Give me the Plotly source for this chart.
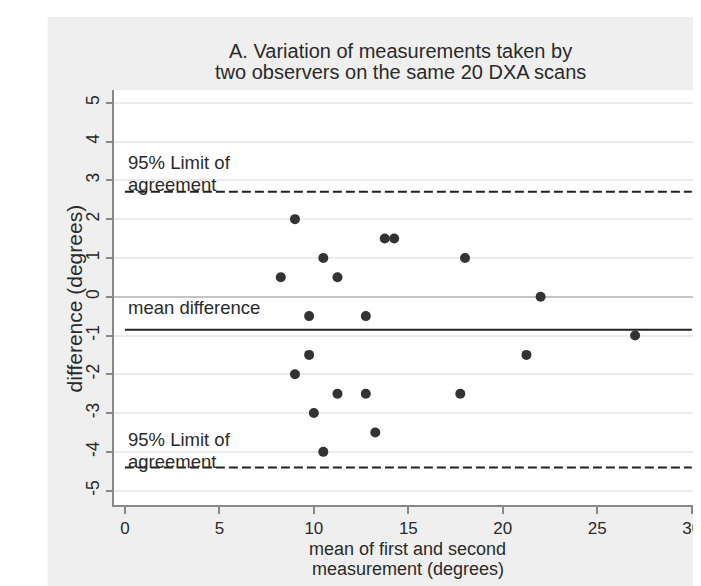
import numpy as np
import plotly.graph_objects as go

# data: mean of measurements (x) and difference (y)
mean_meas = [9.0, 13.75, 14.25, 10.5, 18.0, 8.25, 11.25, 22.0, 9.75, 12.75,
             27.0, 9.75, 21.25, 9.0, 11.25, 12.75, 17.75, 10.0, 13.25, 10.5]
difference = [2.0, 1.5, 1.5, 1.0, 1.0, 0.5, 0.5, 0.0, -0.5, -0.5,
              -1.0, -1.5, -1.5, -2.0, -2.5, -2.5, -2.5, -3.0, -3.5, -4.0]
x_ticks = [0, 5, 10, 15, 20, 25, 30]
y_ticks = [-5, -4, -3, -2, -1, 0, 1, 2, 3, 4, 5]
y_tick_labels = ["-5", "-4", "-3", "-2", "-1", "0", "1", "2", "3", "4", "5"]
line_span = [0, 30]

d = np.array(difference)
mean_diff = d.mean()
sd = d.std(ddof=1)
upper = mean_diff + 1.96 * sd
lower = mean_diff - 1.96 * sd

FONT = "Liberation Sans, Arial, sans-serif"
TXT = "#2a2a2a"

fig = go.Figure()
fig.add_trace(go.Scatter(x=line_span, y=[upper, upper], mode="lines",
                         line=dict(color="#222", width=2, dash="9px,4px"),
                         hoverinfo="skip", showlegend=False))
fig.add_trace(go.Scatter(x=line_span, y=[lower, lower], mode="lines",
                         line=dict(color="#222", width=2, dash="9px,4px"),
                         hoverinfo="skip", showlegend=False))
fig.add_trace(go.Scatter(x=line_span, y=[mean_diff, mean_diff], mode="lines",
                         line=dict(color="#222", width=2),
                         hoverinfo="skip", showlegend=False))
fig.add_trace(go.Scatter(x=mean_meas, y=difference, mode="markers",
                         marker=dict(color="#333", size=10),
                         showlegend=False))

annos = []
for val, lbl, sh in [(upper, "agreement", 7), (upper, "95% Limit of", 29),
                     (lower, "agreement", 6), (lower, "95% Limit of", 28),
                     (mean_diff, "mean difference", 22)]:
    annos.append(dict(x=0, y=val, xref="x", yref="y", text=lbl, showarrow=False,
                      xanchor="left", yanchor="middle", xshift=1, yshift=sh,
                      font=dict(family=FONT, size=18.5, color=TXT)))

# title lines
annos.append(dict(x=0.4923, y=1.0940, xref="paper", yref="paper",
                  text="A. Variation of measurements taken by", showarrow=False,
                  xanchor="center", yanchor="middle",
                  font=dict(family=FONT, size=20, color=TXT)))
annos.append(dict(x=0.4923, y=1.0434, xref="paper", yref="paper",
                  text="two observers on the same 20 DXA scans", showarrow=False,
                  xanchor="center", yanchor="middle",
                  font=dict(family=FONT, size=20, color=TXT)))
# x title
annos.append(dict(x=0.506, y=-0.106, xref="paper", yref="paper",
                  text="mean of first and second", showarrow=False,
                  xanchor="center", yanchor="middle",
                  font=dict(family=FONT, size=18, color=TXT)))
annos.append(dict(x=0.506, y=-0.154, xref="paper", yref="paper",
                  text="measurement (degrees)", showarrow=False,
                  xanchor="center", yanchor="middle",
                  font=dict(family=FONT, size=18, color=TXT)))
# y title
annos.append(dict(x=-0.0664, y=0.4988, xref="paper", yref="paper",
                  text="difference (degrees)", showarrow=False, textangle=-90,
                  xanchor="center", yanchor="middle",
                  font=dict(family=FONT, size=21, color=TXT)))

shapes = [
    dict(type="rect", xref="paper", yref="paper", x0=-0.25, x1=-0.1141,
         y0=-0.3, y1=1.3, fillcolor="white", line=dict(width=0), layer="below"),
    dict(type="rect", xref="paper", yref="paper", x0=-0.25, x1=1.2,
         y0=1.176, y1=1.3, fillcolor="white", line=dict(width=0), layer="below"),
]

fig.update_layout(
    width=693, height=578,
    margin=dict(l=106, r=0, t=82, b=81),
    paper_bgcolor="#efefef", plot_bgcolor="white",
    annotations=annos, shapes=shapes,
    font=dict(family=FONT, color=TXT),
)
fig.update_xaxes(range=[-0.576, 30.17], tickvals=x_ticks, ticks="outside",
                 ticklen=7, tickwidth=1.5, tickcolor="#888", showgrid=False,
                 zeroline=False, showline=True, linecolor="#888", linewidth=1.5,
                 tickfont=dict(family=FONT, size=17, color=TXT),
                 ticklabeloverflow="allow")
fig.update_yaxes(range=[-5.37, 5.33], tickvals=y_ticks, ticktext=y_tick_labels,
                 ticks="outside",
                 ticklen=6, tickwidth=1.5, tickcolor="#888", tickangle=-90,
                 showgrid=True, gridcolor="#ececec", gridwidth=1.5,
                 zeroline=True, zerolinecolor="#c4c4c4", zerolinewidth=2,
                 showline=True, linecolor="#888", linewidth=1.5,
                 tickfont=dict(family=FONT, size=17.5, color=TXT))

fig.write_html("out.html")
